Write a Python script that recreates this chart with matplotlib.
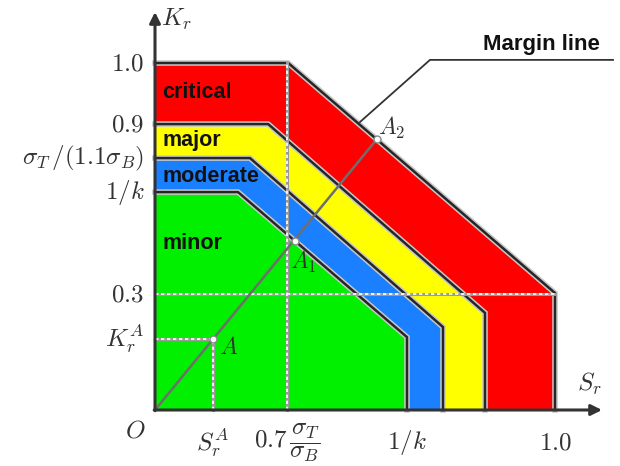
import matplotlib
matplotlib.use("Agg")
import matplotlib.pyplot as plt
from matplotlib.patches import Polygon

plt.rcParams['mathtext.fontset'] = 'cm'
plt.rcParams['font.family'] = ['Liberation Sans', 'DejaVu Sans']

# ---- data (schematic diagram units: S_r on x, K_r on y) ----
regions = ["critical", "major", "moderate", "minor"]
region_top = [1.0, 0.824, 0.726, 0.628]        # K_r level of the flat top
region_knee_x = [0.333, 0.283, 0.2375, 0.2075]  # S_r where the diagonal starts
region_right = [1.0, 0.825, 0.72, 0.63]         # S_r of the vertical right edge
region_knee_y = [0.337, 0.280, 0.239, 0.210]    # K_r where the diagonal ends
region_colors = ["#ff0000", "#ffff00", "#1a80ff", "#00f000"]
label_y = [0.914, 0.778, 0.674, 0.481]

y_tick_pos = [1.0, 0.824, 0.726, 0.628, 0.334, 0.205]
y_tick_lab = [r"$1.0$", r"$0.9$", r"$\sigma_T\,/(1.1\sigma_B)$", r"$1/k$", r"$0.3$", r"$K_r^A$"]
x_tick_pos = [0.145, 0.33, 0.63, 1.0]
x_tick_lab = [r"$S_r^A$", r"$0.7\,\dfrac{\sigma_T}{\sigma_B}$", r"$1/k$", r"$1.0$"]

pt_A = (0.145, 0.205)
pt_A1 = (0.35, 0.487)
pt_A2 = (0.555, 0.781)
leader_x = [0.5125, 0.6875, 1.145]
leader_y = [0.830, 1.009, 1.009]

fig = plt.figure(figsize=(6.2, 4.66), dpi=100)
ax = fig.add_axes([0, 0, 1, 1])
ax.set_xlim(-0.3875, 1.1625)
ax.set_ylim(-0.1614, 1.1816)
ax.axis('off')

# regions
for name, yt, xc, xr, yk, col in zip(regions, region_top, region_knee_x,
                                      region_right, region_knee_y, region_colors):
    verts = [(0, 0), (0, yt), (xc, yt), (xr, yk), (xr, 0)]
    ax.add_patch(Polygon(verts, closed=True, facecolor=col, edgecolor='none', zorder=2))
    ox = [0, xc, xr, xr]
    oy = [yt, yt, yk, 0]
    ax.plot(ox, oy, color='#c8c8c8', lw=4.0, zorder=3, solid_joinstyle='miter')
    ax.plot(ox, oy, color='#262626', lw=1.8, zorder=3.1, solid_joinstyle='miter')

# dashed guide lines
def guide(xs, ys):
    ax.plot(xs, ys, color='#9a9a9a', lw=2.2, zorder=4)
    ax.plot(xs, ys, color='white', lw=1.2, ls=(0, (2, 1.6)), zorder=4.1)

guide([0, 1.0], [0.334, 0.334])
guide([0.33, 0.33], [0, 1.0])
guide([0, pt_A[0]], [pt_A[1], pt_A[1]])
guide([pt_A[0], pt_A[0]], [0, pt_A[1]])

# margin line
ax.plot([0, pt_A2[0]], [0, pt_A2[1]], color='#6e6e6e', lw=1.8, zorder=5)
for p in (pt_A, pt_A1, pt_A2):
    ax.plot(p[0], p[1], 'o', ms=5, mfc='white', mec='#888888', mew=1, zorder=6)

# leader line + label
ax.plot(leader_x, leader_y, color='#333333', lw=1.3, zorder=5)
ax.text(0.965, 1.052, "Margin line", fontsize=16, fontweight='bold',
        ha='center', va='center', color='#111111')

# axes
ax.annotate('', xy=(1.1175, 0), xytext=(-0.002, 0),
            arrowprops=dict(arrowstyle='-|>', color='#333333', lw=2.2,
                            mutation_scale=16, shrinkA=0, shrinkB=0), zorder=7)
ax.annotate('', xy=(0, 1.147), xytext=(0, -0.002),
            arrowprops=dict(arrowstyle='-|>', color='#333333', lw=2.2,
                            mutation_scale=16, shrinkA=0, shrinkB=0), zorder=7)

# region labels
for name, ly in zip(regions, label_y):
    ax.text(0.0175, ly, name, fontsize=15.5, fontweight='bold', ha='left',
            va='center', color='#111111', zorder=8)

# tick labels
tc = '#333333'
for p, l in zip(y_tick_pos, y_tick_lab):
    ax.text(-0.027, p, l, fontsize=18, ha='right', va='center', color=tc)
for p, l in zip(x_tick_pos, x_tick_lab):
    ax.text(p, -0.095, l, fontsize=18, ha='center', va='center', color=tc)
ax.text(-0.05, -0.06, r"$O$", fontsize=18, ha='center', va='center', color=tc)

# axis titles
ax.text(0.015, 1.125, r"$K_r$", fontsize=18, ha='left', va='center', color=tc)
ax.text(1.085, 0.075, r"$S_r$", fontsize=18, ha='center', va='center', color=tc)

# point labels
ax.text(0.16, 0.179, r"$A$", fontsize=17, ha='left', va='center', color=tc, zorder=8)
ax.text(0.3375, 0.427, r"$A_1$", fontsize=17, ha='left', va='center', color=tc, zorder=8)
ax.text(0.5575, 0.813, r"$A_2$", fontsize=17, ha='left', va='center', color=tc, zorder=8)

fig.savefig("out.png", dpi=100)
